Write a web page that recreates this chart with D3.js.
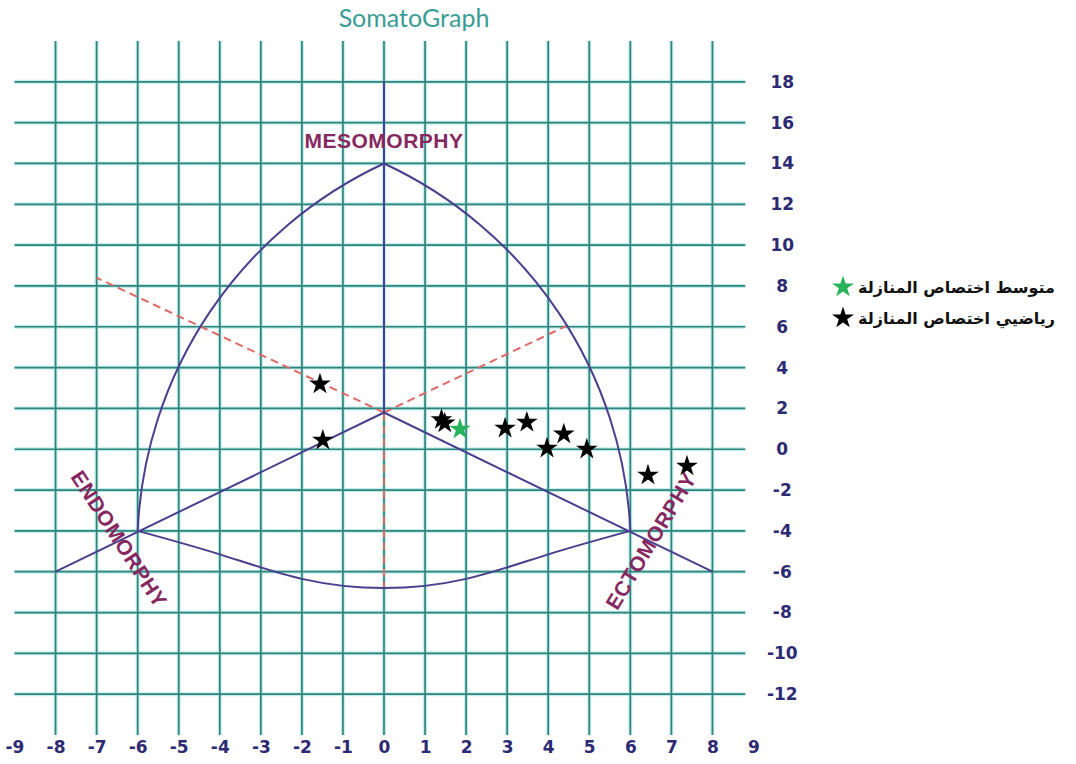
<!DOCTYPE html>
<html>
<head>
<meta charset="utf-8">
<script src="https://cdn.jsdelivr.net/npm/d3@7"></script>
<style>
  body { margin: 0; background: #fff; }
  .chart { width: 1076px; height: 764px; }
  .tick-label { font-family: "DejaVu Sans", sans-serif; font-weight: bold; font-size: 17px; fill: #2d2a73; }
</style>
</head>
<body>
<div class="chart"></div>
<script>
// tick labels
const xTickLabels = [-9, -8, -7, -6, -5, -4, -3, -2, -1, 0, 1, 2, 3, 4, 5, 6, 7, 8, 9];
const yTickLabels = [18, 16, 14, 12, 10, 8, 6, 4, 2, 0, -2, -4, -6, -8, -10, -12];
const xGrid = [-8, -7, -6, -5, -4, -3, -2, -1, 0, 1, 2, 3, 4, 5, 6, 7, 8];

// athletes (black stars)
const athleteX = [-1.56, -1.49, 1.40, 1.48, 2.95, 3.48, 4.38, 3.97, 4.94, 6.43, 7.38];
const athleteY = [3.19, 0.44, 1.45, 1.28, 1.03, 1.32, 0.74, 0.05, 0.0, -1.27, -0.83];

// mean (green star)
const meanX = [1.85];
const meanY = [0.98];

// somatochart frame
const center = [0, 1.8];
const mesoTop = [0, 18];
const mesoApex = [0, 14];
const endoCorner = [-6, -4];
const ectoCorner = [6, -4];
const endoEnd = [-8, -6];
const ectoEnd = [8, -6];
const leftArcMid = [-4.48, 5.98];
const rightArcMid = [4.48, 5.98];
const lowerArc = [[-6, -4], [-4, -5.15], [-2, -6.35], [0, -6.8], [2, -6.35], [4, -5.15], [6, -4]];
const dashEnds = [[-7, 8.4], [4.45, 6.05], [0, -6.8]];

const legendLabels = ["متوسط اختصاص المنازلة", "رياضيي اختصاص المنازلة"];
const legendColors = ["#27b35a", "#000"];

// circle through three pixel points
function circleThrough(p1, p2, p3) {
    let ax = p1[0], ay = p1[1], bx = p2[0], by = p2[1], cx = p3[0], cy = p3[1];
    let d = 2 * (ax * (by - cy) + bx * (cy - ay) + cx * (ay - by));
    let ux = ((ax * ax + ay * ay) * (by - cy) + (bx * bx + by * by) * (cy - ay) + (cx * cx + cy * cy) * (ay - by)) / d;
    let uy = ((ax * ax + ay * ay) * (cx - bx) + (bx * bx + by * by) * (ax - cx) + (cx * cx + cy * cy) * (bx - ax)) / d;
    return { x: ux, y: uy, r: Math.hypot(ax - ux, ay - uy) };
}

function init() {
    let svg = d3.select(".chart").append("svg")
        .attr("width", 1076)
        .attr("height", 764);

    // same unit per pixel as the original sheet
    let xScale = d3.scaleLinear().domain([-9, 9]).range([14.5, 753.5]);
    let yScale = d3.scaleLinear().domain([-14, 20]).range([735, 41]);
    let px = p => [xScale(p[0]), yScale(p[1])];

    // title
    svg.append("text")
        .attr("x", 414).attr("y", 27)
        .attr("text-anchor", "middle")
        .style("font-family", "Lato, sans-serif")
        .style("font-size", "25px")
        .style("fill", "#3a9c95")
        .text("SomatoGraph");

    let grid = svg.append("g").attr("class", "grid");

    // soft halo then the line itself
    [["#c4eeee", 4], ["#2f837b", 1.7]].forEach(([col, w]) => {
        grid.append("g").selectAll("line")
            .data(xGrid).enter().append("line")
            .attr("x1", d => xScale(d)).attr("x2", d => xScale(d))
            .attr("y1", yScale(20)).attr("y2", yScale(-14))
            .attr("stroke", col).attr("stroke-width", w);

        grid.append("g").selectAll("line")
            .data(yTickLabels).enter().append("line")
            .attr("x1", xScale(-9)).attr("x2", xScale(8.8))
            .attr("y1", d => yScale(d)).attr("y2", d => yScale(d))
            .attr("stroke", col).attr("stroke-width", w);
    });

    // axis labels (plain hyphen, like the sheet)
    let xAxis = svg.append("g")
        .attr("transform", `translate(0,${yScale(-14)})`)
        .call(d3.axisBottom(xScale).tickValues(xTickLabels).tickFormat(d => String(d)).tickSize(0).tickPadding(6));
    xAxis.select(".domain").remove();
    xAxis.selectAll("text").attr("class", "tick-label");

    let yAxis = svg.append("g")
        .attr("transform", `translate(${xScale(8.8)},0)`)
        .call(d3.axisRight(yScale).tickValues(yTickLabels).tickFormat(d => String(d)).tickSize(0).tickPadding(37));
    yAxis.select(".domain").remove();
    yAxis.selectAll("text").attr("class", "tick-label").attr("text-anchor", "middle");

    let line = d3.line().x(d => xScale(d[0])).y(d => yScale(d[1]));
    let curve = d3.line().x(d => xScale(d[0])).y(d => yScale(d[1])).curve(d3.curveNatural);

    let frame = svg.append("g").attr("fill", "none");

    // dashed red axes
    dashEnds.forEach(p => {
        frame.append("path")
            .attr("d", line([center, p]))
            .attr("stroke", "#de6a66").attr("stroke-width", 2)
            .attr("stroke-dasharray", "8,5");
    });

    // upper arcs as circle pieces
    [[leftArcMid, endoCorner, 0], [rightArcMid, ectoCorner, 1]].forEach(([mid, corner, sweep]) => {
        let a = px(mesoApex), b = px(mid), c = px(corner);
        let circ = circleThrough(a, b, c);
        frame.append("path")
            .attr("d", `M${a[0]},${a[1]} A${circ.r},${circ.r} 0 0 ${sweep} ${c[0]},${c[1]}`)
            .attr("stroke", "#4a3f8e").attr("stroke-width", 2);
    });

    frame.append("path").attr("d", curve(lowerArc))
        .attr("stroke", "#4a3f8e").attr("stroke-width", 2);

    [[mesoTop, center], [endoEnd, center], [center, ectoEnd]].forEach(seg => {
        frame.append("path").attr("d", line(seg))
            .attr("stroke", "#4a3f8e").attr("stroke-width", 2);
    });

    // component labels
    let lab = svg.append("g")
        .style("font-family", "'Liberation Sans', Arial, sans-serif")
        .style("font-weight", "bold")
        .style("font-size", "21px")
        .style("letter-spacing", "0.5px")
        .style("fill", "#86285f")
        .attr("text-anchor", "middle");

    lab.append("text")
        .attr("x", xScale(0)).attr("y", yScale(14.75))
        .text("MESOMORPHY");

    lab.append("text")
        .attr("transform", `translate(${xScale(-6.45)},${yScale(-4.4)}) rotate(57)`)
        .attr("dy", "0.35em")
        .text("ENDOMORPHY");

    lab.append("text")
        .attr("transform", `translate(${xScale(6.5)},${yScale(-4.5)}) rotate(-59)`)
        .attr("dy", "0.35em")
        .text("ECTOMORPHY");

    // stars
    let star = d3.symbol().type(d3.symbolStar).size(145);

    svg.append("g").selectAll("path")
        .data(athleteX).enter().append("path")
        .attr("d", star)
        .attr("transform", (d, i) => `translate(${xScale(d)},${yScale(athleteY[i])})`)
        .attr("fill", "#000");

    svg.append("g").selectAll("path")
        .data(meanX).enter().append("path")
        .attr("d", star)
        .attr("transform", (d, i) => `translate(${xScale(d)},${yScale(meanY[i])})`)
        .attr("fill", "#27b35a");

    // legend
    let legend = svg.append("g").attr("transform", "translate(843,287)");
    let rows = legend.selectAll("g").data(legendLabels).enter().append("g")
        .attr("transform", (d, i) => `translate(0,${i * 31})`);

    rows.append("path")
        .attr("d", d3.symbol().type(d3.symbolStar).size(150))
        .attr("fill", (d, i) => legendColors[i]);

    rows.append("text")
        .attr("x", 15)
        .attr("dy", "0.35em")
        .style("font-family", "'DejaVu Sans', sans-serif")
        .style("font-weight", "bold")
        .style("font-size", "16px")
        .style("fill", "#111")
        .text(d => d);
}

init();
</script>
</body>
</html>
